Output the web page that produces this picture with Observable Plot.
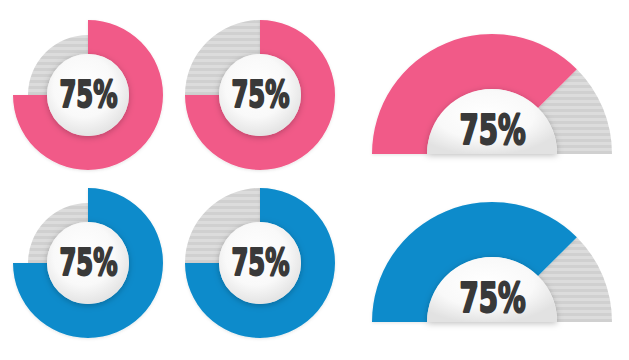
<!DOCTYPE html>
<html><head><meta charset="utf-8">
<script src="https://cdn.jsdelivr.net/npm/d3@7"></script>
<script src="https://cdn.jsdelivr.net/npm/@observablehq/plot@0.6"></script>
<style>html,body{margin:0;padding:0;background:#fff;}</style>
</head><body><div id="chart"></div>
<script>
// ---- data ----
const gaugeIds = ["a", "b", "c", "d", "e", "f"];
const values = [75, 75, 75, 75, 75, 75];
const series = ["pink", "pink", "pink", "blue", "blue", "blue"];
const kinds = ["inset", "full", "half", "inset", "full", "half"];
const labels = ["75%", "75%", "75%", "75%", "75%", "75%"];

// ---- layout / style ----
const centers = {a: [88, 95], b: [260, 95], c: [492, 154], d: [88, 263], e: [260, 263], f: [492, 322]};
const colors = {pink: "#f15a88", blue: "#0b8bcb"};
const geom = {
  inset: {outer: 75, track: 60, inner: 41, a0: 0, a1: 2 * Math.PI, font: 38, dy: 0, squeeze: 0.71},
  full:  {outer: 75, track: 75, inner: 41, a0: 0, a1: 2 * Math.PI, font: 38, dy: 0, squeeze: 0.71},
  half:  {outer: 120, track: 120, inner: 65, a0: -Math.PI / 2, a1: Math.PI / 2, font: 41, dy: -24, squeeze: 0.75}
};

const data = gaugeIds.map((id, i) => ({
  id, value: values[i], series: series[i], kind: kinds[i], label: labels[i],
  cx: centers[id][0], cy: centers[id][1]
}));

function gaugeRender(index, scales, channels, dims, context) {
  const g = d3.create("svg:g");
  const defs = g.append("defs");
  const pat = defs.append("pattern").attr("id", "stripes").attr("patternUnits", "userSpaceOnUse")
    .attr("width", 8).attr("height", 6);
  pat.append("rect").attr("width", 8).attr("height", 6).attr("fill", "#dcdcdc");
  pat.append("rect").attr("y", 3).attr("width", 8).attr("height", 3).attr("fill", "#d0d0d0");
  const rg = defs.append("radialGradient").attr("id", "whiteDisc").attr("cx", "45%").attr("cy", "40%").attr("r", "62%");
  rg.append("stop").attr("offset", "0%").attr("stop-color", "#ffffff");
  rg.append("stop").attr("offset", "60%").attr("stop-color", "#f9f9f9");
  rg.append("stop").attr("offset", "100%").attr("stop-color", "#e2e2e2");
  const f = defs.append("filter").attr("id", "shadow").attr("x", "-30%").attr("y", "-30%").attr("width", "160%").attr("height", "160%");
  f.append("feDropShadow").attr("dx", 0).attr("dy", 1.5).attr("stdDeviation", 3).attr("flood-color", "#000").attr("flood-opacity", 0.25);
  const fr = defs.append("filter").attr("id", "ringShade").attr("x", "-20%").attr("y", "-20%").attr("width", "140%").attr("height", "140%");
  fr.append("feDropShadow").attr("dx", 0).attr("dy", 1).attr("stdDeviation", 1.5).attr("flood-color", "#000").attr("flood-opacity", 0.1);

  for (const i of index) {
    const d = data[i];
    const G = geom[d.kind];
    const x = channels.x[i], y = channels.y[i];
    const ang = d3.scaleLinear([0, 100], [G.a0, G.a1]);
    const gg = g.append("g").attr("transform", `translate(${x},${y})`);
    gg.append("path")
      .attr("d", d3.arc()({innerRadius: G.inner, outerRadius: G.track, startAngle: ang(d.value), endAngle: ang(100)}))
      .attr("fill", "url(#stripes)");
    gg.append("path")
      .attr("d", d3.arc()({innerRadius: G.inner, outerRadius: G.outer, startAngle: ang(0), endAngle: ang(d.value)}))
      .attr("fill", colors[d.series]).attr("filter", "url(#ringShade)");
    gg.append("path")
      .attr("d", d3.arc()({innerRadius: 0, outerRadius: G.inner, startAngle: G.a0, endAngle: G.a1}))
      .attr("fill", "url(#whiteDisc)").attr("filter", "url(#shadow)");
  }
  return g.node();
}

function squeezeText(factor) {
  return function (index, scales, channels, dims, context, next) {
    const node = next(index, scales, channels, dims, context);
    d3.select(node).selectAll("text").each(function () {
      const t = this.getAttribute("transform") || "";
      this.setAttribute("transform", t + ` scale(${factor},1)`);
    });
    return node;
  };
}

const fontFamily = "'DejaVu Sans Condensed', 'DejaVu Sans', sans-serif";

const chart = Plot.plot({
  width: 629, height: 360, margin: 0,
  style: {background: "#fff", overflow: "visible"},
  x: {domain: [0, 629], range: [0, 629], axis: null},
  y: {domain: [0, 360], range: [0, 360], axis: null},
  marks: [
    Plot.dot(data, {x: "cx", y: "cy", render: gaugeRender}),
    Plot.text(data.filter(d => d.kind !== "half"), {
      x: "cx", y: d => d.cy + geom[d.kind].dy, text: "label",
      fontSize: 38, fontWeight: "bold", fontFamily, fill: "#393939",
      stroke: "#393939", strokeWidth: 2, textAnchor: "middle", dy: -1,
      render: squeezeText(geom.full.squeeze)
    }),
    Plot.text(data.filter(d => d.kind === "half"), {
      x: "cx", y: d => d.cy + geom[d.kind].dy, text: "label",
      fontSize: 41, fontWeight: "bold", fontFamily, fill: "#393939",
      stroke: "#393939", strokeWidth: 2, textAnchor: "middle", dy: 0,
      render: squeezeText(geom.half.squeeze)
    })
  ]
});
document.getElementById("chart").appendChild(chart);
</script>
</body></html>
